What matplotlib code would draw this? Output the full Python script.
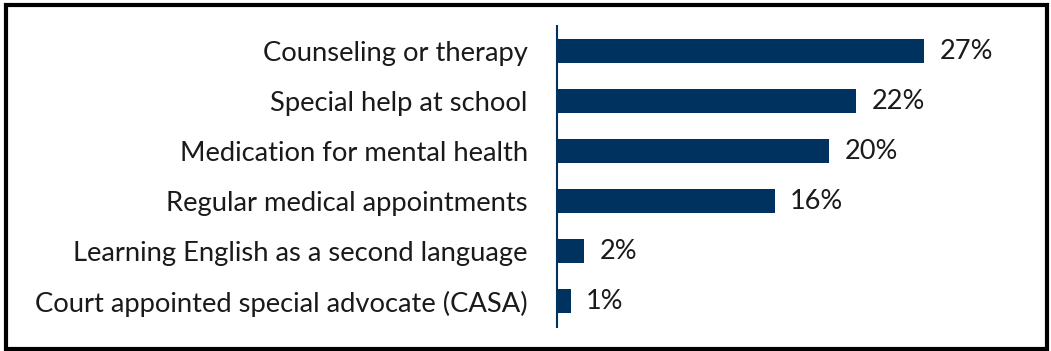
import matplotlib
matplotlib.use("Agg")
import matplotlib.pyplot as plt
from matplotlib.patches import Rectangle

categories = [
    "Counseling or therapy",
    "Special help at school",
    "Medication for mental health",
    "Regular medical appointments",
    "Learning English as a second language",
    "Court appointed special advocate (CASA)",
]
values = [27, 22, 20, 16, 2, 1]
labels = ["27%", "22%", "20%", "16%", "2%", "1%"]

BAR = "#00325F"
W, H = 1051, 351

plt.rcParams["font.family"] = ["Lato", "DejaVu Sans"]

fig = plt.figure(figsize=(W / 100, H / 100), dpi=100)
ax = fig.add_axes([557 / W, (H - 326.5) / H, (965 - 557) / W, 300.5 / H])

ys = list(range(len(categories)))
ax.barh(ys, values, height=0.48, color=BAR)
for y, v, t in zip(ys, values, labels):
    ax.text(v + 1.15, y, t, va="center", ha="left", fontsize=19.5, color="#1a1a1a")

ax.set_xlim(0, 30)
ax.set_ylim(len(categories) - 0.5, -0.5)
ax.set_yticks(ys)
ax.set_yticklabels(categories, fontsize=19.7, color="#1a1a1a")
ax.tick_params(axis="y", length=0, pad=21)
ax.set_xticks([])
for s in ["top", "right", "bottom"]:
    ax.spines[s].set_visible(False)
ax.spines["left"].set_color(BAR)
ax.spines["left"].set_linewidth(1.5)

# frame around the whole figure
fig.patches.append(Rectangle((5.5 / W, 2 / H), (1047 - 5.5) / W, 344 / H,
                             transform=fig.transFigure, fill=False,
                             edgecolor="black", linewidth=3))

fig.savefig("out.png", dpi=100)
